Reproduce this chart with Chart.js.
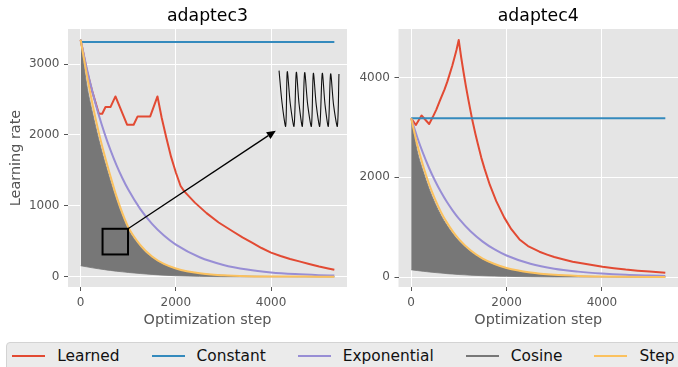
<!DOCTYPE html>
<html><head><meta charset="utf-8">
<script src="https://cdn.jsdelivr.net/npm/chart.js@4.4.1/dist/chart.umd.min.js"></script>
<style>
html,body{margin:0;padding:0;background:#fff;}
#wrap{position:relative;width:678px;height:367px;overflow:hidden;font-family:"DejaVu Sans",sans-serif;}
canvas{position:absolute;}
#legend{position:absolute;left:6px;top:342px;width:720px;height:40px;background:#EBEBEB;border:1px solid #D3D3D3;border-radius:4px;box-sizing:border-box;}
#legend .row{position:absolute;left:5.3px;top:0;height:25px;display:flex;align-items:center;white-space:nowrap;}
#legend .item{display:flex;align-items:center;margin-right:32px;}
#legend .h{display:inline-block;width:33px;height:2px;margin-right:12px;}
#legend .t{font-size:15.4px;color:#111;}
</style></head>
<body><div id="wrap">
<canvas id="c3" width="350" height="335" style="left:0;top:0"></canvas>
<canvas id="c4" width="328" height="335" style="left:350px;top:0"></canvas>
<canvas id="cin" width="10" height="10" style="left:0;top:0"></canvas>
<div id="legend"><div class="row" id="legrow"></div></div>
</div>
<script>
// ---------- data ----------
const seriesNames = ['Learned','Constant','Exponential','Cosine','Step'];
const seriesColors = ['#E24A33','#348ABD','#988ED5','#777777','#FBC15E'];
const panelTitles = ['adaptec3','adaptec4'];
const xLabel = 'Optimization step';
const yLabel = 'Learning rate';
const xTickVals = [0,2000,4000];
const a3YTicks = [0,1000,2000,3000];
const a4YTicks = [0,2000,4000];

const stepGrid = [0,125,250,375,500,625,750,875,1000,1250,1500,1750,2000,2500,3000,3500,4000,4500,5000,5330];
const constX = [0,5330];

// adaptec3
const a3ConstY = [3310,3310];
const a3ExpY = [3340,2947,2601,2295,2026,1788,1578,1392,1229,957,745,580,452,274,166,101,61,37,22,16];
const a3StepY = [3340,2860,2430,2050,1720,1420,1140,900,700,450,285,180,117,48,20,8,4,2,1,0];
const a3CosHiY = [3350,2720,2310,1950,1635,1350,1085,855,665,428,270,171,111,46,19,8,4,2,1,0];
const a3CosLoY = [155,140,125,112,100,89,78,69,60,45,32,22,14,5,1,0,0,0,0,0];
const a3LearnedX = [0,125,250,382,453,522,626,731,975,1113,1197,1461,1614,1700,1800,1900,2000,2100,2177,2400,2645,2900,3200,3400,3600,3800,4000,4200,4400,4593,4800,5010,5200,5330];
const a3LearnedY = [3340,2920,2600,2299,2299,2393,2393,2543,2144,2144,2261,2261,2543,2250,1960,1690,1470,1280,1203,1045,897,765,638,555,480,405,340,292,250,216,180,145,117,99];

// adaptec4
const a4ConstY = [3180,3180];
const a4ExpY = [3180,2806,2477,2185,1929,1702,1502,1326,1170,911,710,553,432,265,165,108,70,45,30,22];
const a4StepY = [3180,2660,2230,1860,1560,1300,1090,910,760,530,370,260,180,90,44,21,10,5,2,1];
const a4CosHiY = [3180,2530,2120,1770,1480,1235,1035,865,720,505,350,245,170,85,42,20,10,5,2,1];
const a4CosLoY = [145,130,115,102,90,79,68,59,50,37,27,19,13,5,1,0,0,0,0,0];
const a4LearnedX = [0,98,217,377,450,525,600,700,760,809,860,900,950,997,1050,1100,1150,1200,1283,1350,1400,1470,1540,1650,1784,1950,2100,2272,2450,2690,2850,3000,3200,3386,3700,4013,4250,4500,4750,5000,5330];
const a4LearnedY = [3180,3046,3236,3066,3200,3350,3530,3760,3920,4070,4230,4370,4550,4750,4394,4093,3811,3549,3140,2857,2660,2393,2167,1845,1520,1195,958,753,620,507,450,400,350,307,255,207,178,150,128,110,87];

// zoom annotation (adaptec3, data coordinates)
const zoomBoxX = [460,995];
const zoomBoxY = [314,676];
const arrowFrom = [995,676];
const arrowTo = [4100,2060];
const insetBoxX = [4150,5450];
const insetBoxY = [2100,2920];
// zoomed cosine trace shown in inset
const insetX = [469,495,526,540,566,598,618,642,670,690,716,748,765,790,820,842,866,894,914,940,972,986];
const insetY = [672,470,324,666,465,324,661,462,324,659,460,324,655,458,324,655,458,324,651,455,324,651];

// ---------- helpers ----------
const pts = (xs, ys) => xs.map((x,i)=>({x, y: ys[i]}));
Chart.defaults.font.family = 'DejaVu Sans';
Chart.defaults.animation = false;

const bgPlugin = {id:'bg', beforeDraw(chart){const {ctx, chartArea:a}=chart; ctx.save(); ctx.fillStyle='#E5E5E5'; ctx.fillRect(a.left,a.top,a.right-a.left,a.bottom-a.top); ctx.restore();}};

const annPlugin = {id:'ann', afterDatasetsDraw(chart){
  const {ctx, scales:{x,y}} = chart;
  ctx.save();
  ctx.strokeStyle = '#000'; ctx.lineWidth = 2;
  const x0 = x.getPixelForValue(zoomBoxX[0]), x1 = x.getPixelForValue(zoomBoxX[1]);
  const y0 = y.getPixelForValue(zoomBoxY[0]), y1 = y.getPixelForValue(zoomBoxY[1]);
  ctx.strokeRect(x0, y1, x1-x0, y0-y1);
  const ax = x.getPixelForValue(arrowFrom[0]), ay = y.getPixelForValue(arrowFrom[1]);
  const bx = x.getPixelForValue(arrowTo[0]), by = y.getPixelForValue(arrowTo[1]);
  const ang = Math.atan2(by-ay, bx-ax), hl = 9, hw = 4;
  const ex = bx - hl*Math.cos(ang), ey = by - hl*Math.sin(ang);
  ctx.lineWidth = 1.3; ctx.beginPath(); ctx.moveTo(ax,ay); ctx.lineTo(ex,ey); ctx.stroke();
  ctx.fillStyle = '#000'; ctx.beginPath(); ctx.moveTo(bx,by);
  ctx.lineTo(ex - hw*Math.sin(ang), ey + hw*Math.cos(ang));
  ctx.lineTo(ex + hw*Math.sin(ang), ey - hw*Math.cos(ang));
  ctx.closePath(); ctx.fill();
  ctx.restore();
}};

function makeDatasets(learnedX, learnedY, constY, expY, cosHi, cosLo, stepY){
  const base = {pointRadius:0, borderWidth:2, borderJoinStyle:'round', fill:false};
  return [
    {...base, label:seriesNames[4], data:pts(stepGrid, stepY), borderColor:seriesColors[4], cubicInterpolationMode:'monotone', order:0},
    {...base, label:seriesNames[3], data:pts(stepGrid, cosHi), borderColor:seriesColors[3], borderWidth:0.8, backgroundColor:seriesColors[3], fill:'+1', cubicInterpolationMode:'monotone', order:1},
    {...base, label:seriesNames[3]+' low', data:pts(stepGrid, cosLo), borderColor:seriesColors[3], borderWidth:0.8, cubicInterpolationMode:'monotone', order:1},
    {...base, label:seriesNames[2], data:pts(stepGrid, expY), borderColor:seriesColors[2], cubicInterpolationMode:'monotone', order:2},
    {...base, label:seriesNames[1], data:pts(constX, constY), borderColor:seriesColors[1], order:3},
    {...base, label:seriesNames[0], data:pts(learnedX, learnedY), borderColor:seriesColors[0], tension:0, order:4}
  ];
}

function makeOptions(title, yTicks, yMin, yMax, yWidth, showYTitle, padRight){
  const tickFont = {family:'DejaVu Sans', size:12};
  return {
    responsive:false, animation:false, events:[],
    layout:{padding:{left:0, right:padRight, top:0, bottom:0}},
    plugins:{
      legend:{display:false}, tooltip:{enabled:false},
      title:{display:true, text:title, fullSize:false, color:'#000', font:{family:'DejaVu Sans', size:17.28, weight:'normal'}, padding:{top:6.5, bottom:1.764}}
    },
    scales:{
      x:{type:'linear', min:-266, max:5596,
        afterBuildTicks:s=>{s.ticks = xTickVals.map(v=>({value:v}));},
        afterFit:s=>{s.height = 48;},
        grid:{color:'#FFFFFF', lineWidth:1, tickColor:'#555555', tickLength:4, tickWidth:1},
        border:{display:false},
        ticks:{color:'#555555', font:tickFont, padding:5, maxRotation:0, autoSkip:false, callback:v=>String(v)},
        title:{display:true, text:xLabel, color:'#555555', font:{family:'DejaVu Sans', size:14.4}, padding:{top:0, bottom:6}}
      },
      y:{type:'linear', min:yMin, max:yMax,
        afterBuildTicks:s=>{s.ticks = yTicks.map(v=>({value:v}));},
        afterFit:s=>{s.width = yWidth;},
        grid:{color:'#FFFFFF', lineWidth:1, tickColor:'#555555', tickLength:4, tickWidth:1},
        border:{display:false},
        ticks:{color:'#555555', font:tickFont, padding:4.5, autoSkip:false, callback:v=>String(v)},
        title:{display:showYTitle, text:yLabel, color:'#555555', font:{family:'DejaVu Sans', size:14.4}, padding:{top:8, bottom:0}}
      }
    }
  };
}

const chart3 = new Chart(document.getElementById('c3'), {
  type:'line',
  data:{datasets: makeDatasets(a3LearnedX, a3LearnedY, a3ConstY, a3ExpY, a3CosHiY, a3CosLoY, a3StepY)},
  options: makeOptions(panelTitles[0], a3YTicks, -145, 3494, 68, true, 3),
  plugins:[bgPlugin, annPlugin]
});

const chart4 = new Chart(document.getElementById('c4'), {
  type:'line',
  data:{datasets: makeDatasets(a4LearnedX, a4LearnedY, a4ConstY, a4ExpY, a4CosHiY, a4CosLoY, a4StepY)},
  options: makeOptions(panelTitles[1], a4YTicks, -200, 4970, 48.5, false, 0),
  plugins:[bgPlugin]
});

// inset, placed at its data-coordinate box on the adaptec3 panel
(function(){
  const xs = chart3.scales.x, ys = chart3.scales.y;
  const l = xs.getPixelForValue(insetBoxX[0]), r = xs.getPixelForValue(insetBoxX[1]);
  const t = ys.getPixelForValue(insetBoxY[1]), b = ys.getPixelForValue(insetBoxY[0]);
  const cv = document.getElementById('cin');
  cv.width = Math.round(r-l); cv.height = Math.round(b-t);
  cv.style.left = Math.round(l)+'px'; cv.style.top = Math.round(t)+'px';
  const insetBg = {id:'ibg', beforeDraw(chart){const c=chart.ctx; c.save(); c.fillStyle='#E8E8E8'; c.fillRect(0,0,chart.width,chart.height); c.restore();}};
  new Chart(cv, {
    type:'line',
    data:{datasets:[{data:pts(insetX, insetY), borderColor:'#111111', borderWidth:1.1, pointRadius:0, tension:0.3, fill:false}]},
    options:{responsive:false, animation:false, events:[], layout:{padding:0},
      plugins:{legend:{display:false}, tooltip:{enabled:false}},
      scales:{x:{type:'linear', min:zoomBoxX[0], max:zoomBoxX[1], display:false}, y:{type:'linear', min:zoomBoxY[0], max:zoomBoxY[1], display:false}}},
    plugins:[insetBg]
  });
})();

// legend
const row = document.getElementById('legrow');
seriesNames.forEach((n,i)=>{
  const it = document.createElement('div'); it.className='item';
  const h = document.createElement('span'); h.className='h'; h.style.background = seriesColors[i];
  const t = document.createElement('span'); t.className='t'; t.textContent = n;
  it.appendChild(h); it.appendChild(t); row.appendChild(it);
});
</script>
</body></html>
